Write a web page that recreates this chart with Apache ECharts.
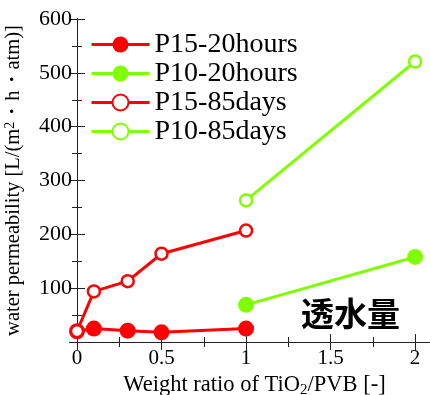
<!DOCTYPE html>
<html>
<head>
<meta charset="utf-8">
<script src="https://cdn.jsdelivr.net/npm/echarts@6/dist/echarts.min.js"></script>
<style>
  html, body { margin: 0; padding: 0; background: #fff; }
  #chart { width: 430px; height: 395px; }
</style>
</head>
<body>
<div id="chart"></div>
<script>
// Weight ratio TiO2/PVB and measured water permeability [L/(m2·h·atm)]
const seriesNames = ['P15-20hours', 'P10-20hours', 'P15-85days', 'P10-85days'];
const p15Ratio = [0, 0.1, 0.3, 0.5, 1];
const p10Ratio = [1, 2];
const p15Hours20 = [20, 25, 21, 18, 25];
const p10Hours20 = [69, 158];
const p15Days85 = [20, 94, 113, 164, 207];
const p10Days85 = [263, 521];
const xTicks = [0, 0.5, 1, 1.5, 2];
const yTicks = [0, 100, 200, 300, 400, 500, 600];

const RED = '#ff0000';
const GREEN = '#80ff00';
const SERIF = '"Liberation Serif", "Times New Roman", serif';

const pairs = (xs, ys) => xs.map((x, i) => [x, ys[i]]);

function lineSeries(name, xs, ys, color, filled) {
  return {
    name: name,
    type: 'line',
    data: pairs(xs, ys),
    symbol: 'circle',
    symbolSize: filled ? 16 : 12,
    lineStyle: { color: color, width: 3 },
    itemStyle: filled
      ? { color: color, borderWidth: 0 }
      : { color: '#fff', borderColor: color, borderWidth: 2.5 },
    emphasis: { disabled: true },
    animation: false
  };
}

const chart = echarts.init(document.getElementById('chart'));

const tickCommon = {
  axisLine: { show: true, lineStyle: { color: '#222', width: 1 } },
  axisTick: { show: true, inside: true, length: 8, lineStyle: { color: '#222' } },
  minorTick: { show: true, splitNumber: 2, length: 5, lineStyle: { color: '#222' } },
  splitLine: { show: false }
};

chart.setOption({
  animation: false,
  grid: { left: 77, top: 19, width: 355, height: 323, containLabel: false, outerBoundsMode: 'none' },
  legend: {
    orient: 'vertical',
    left: 90,
    top: 30,
    padding: 0,
    itemWidth: 58,
    itemHeight: 20,
    itemGap: 0,
    lineStyle: { width: 3 },
    data: seriesNames,
    textStyle: { fontFamily: SERIF, fontSize: 28, color: '#000', lineHeight: 29 }
  },
  title: {
    text: '透水量',
    left: 301,
    top: 297,
    padding: 0,
    textStyle: { fontFamily: '"Noto Sans CJK JP", sans-serif', fontWeight: 'bold', fontSize: 33, color: '#000' }
  },
  xAxis: [
    Object.assign({
      type: 'value', min: xTicks[0], max: 2.1, interval: 0.5, position: 'bottom',
      axisLabel: {
        show: true, margin: 6, showMaxLabel: false,
        fontFamily: SERIF, fontSize: 21, color: '#000',
        formatter: v => (xTicks.indexOf(v) >= 0 ? String(v) : '')
      },
      name: 'Weight ratio of TiO{sub|2}/PVB [-]',
      nameLocation: 'middle',
      nameGap: 30,
      nameTextStyle: {
        fontFamily: SERIF, fontSize: 22.5, color: '#000',
        rich: { sub: { fontFamily: SERIF, fontSize: 15, color: '#000', verticalAlign: 'bottom', padding: [9, 0, 0, 0] } }
      }
    }, tickCommon),
    Object.assign({
      type: 'value', min: xTicks[0], max: 2.1, interval: 0.5, position: 'top',
      axisLabel: { show: false }
    }, tickCommon)
  ],
  yAxis: [
    Object.assign({
      type: 'value', min: yTicks[0], max: yTicks[yTicks.length - 1], interval: 100, position: 'left',
      axisLabel: {
        show: true, margin: 5, showMinLabel: false,
        fontFamily: SERIF, fontSize: 22, color: '#000'
      },
      name: 'water permeability [L/(m{sup|2}・h・atm)]',
      nameLocation: 'middle',
      nameRotate: 90,
      nameGap: 52,
      nameTextStyle: {
        fontFamily: SERIF, fontSize: 20.5, color: '#000',
        rich: { sup: { fontFamily: SERIF, fontSize: 14, color: '#000', verticalAlign: 'top', padding: [0, 0, 8, 0] } }
      }
    }, tickCommon),
    Object.assign({
      type: 'value', min: yTicks[0], max: yTicks[yTicks.length - 1], interval: 100, position: 'right',
      axisLabel: { show: false }
    }, tickCommon)
  ],
  series: [
    lineSeries(seriesNames[0], p15Ratio, p15Hours20, RED, true),
    lineSeries(seriesNames[1], p10Ratio, p10Hours20, GREEN, true),
    lineSeries(seriesNames[2], p15Ratio, p15Days85, RED, false),
    lineSeries(seriesNames[3], p10Ratio, p10Days85, GREEN, false)
  ]
});
</script>
</body>
</html>
